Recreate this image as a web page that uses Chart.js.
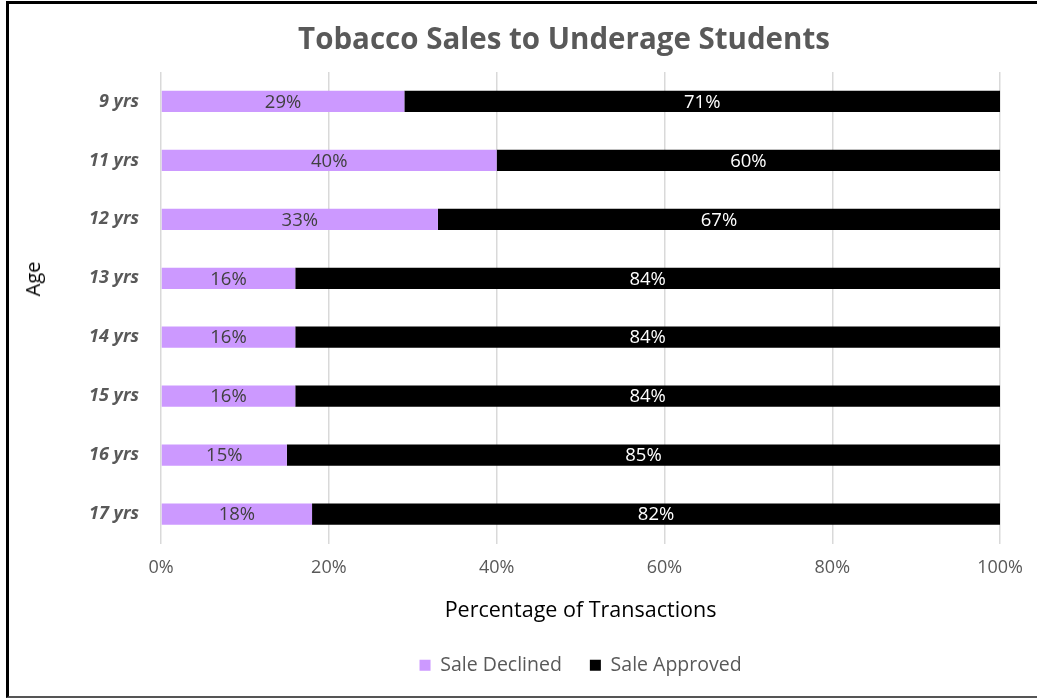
<!DOCTYPE html>
<html lang="en">
<head>
    <meta charset="UTF-8">
    <title>Tobacco Sales to Underage Students</title>
    <script src="https://cdn.jsdelivr.net/npm/chart.js"></script>
    <style>
        html, body {
            margin: 0;
            padding: 0;
            background: #ffffff;
            overflow: hidden;
            font-family: 'Open Sans', 'Noto Sans', sans-serif;
        }
        .frame {
            position: absolute;
            left: 6px;
            top: 1px;
            width: 1028px;
            height: 692px;
            border-top: 3px solid #000000;
            border-left: 3px solid #000000;
            border-bottom: 2px solid #555555;
        }
        canvas {
            display: block;
        }
        .chart-title {
            position: absolute;
            left: 0;
            top: 18px;
            width: 1128px;
            line-height: 40px;
            text-align: center;
            font-size: 29.5px;
            font-weight: bold;
            color: #595959;
            white-space: nowrap;
        }
        .axis-title-y {
            position: absolute;
            left: 33px;
            top: 279px;
            transform: translate(-50%, -50%) rotate(-90deg);
            font-size: 20px;
            line-height: 24px;
            color: #000000;
        }
    </style>
</head>
<body>
    <div class="frame">
        <canvas id="salesChart" width="1028" height="692"></canvas>
    </div>
    <div class="chart-title">Tobacco Sales to Underage Students</div>
    <div class="axis-title-y">Age</div>

    <script>
        const ages = ['9 yrs', '11 yrs', '12 yrs', '13 yrs', '14 yrs', '15 yrs', '16 yrs', '17 yrs'];
        const saleDeclined = [29, 40, 33, 16, 16, 16, 15, 18];
        const saleApproved = [71, 60, 67, 84, 84, 84, 85, 82];
        const xTicks = [0, 20, 40, 60, 80, 100];

        const FONT = "'Open Sans', 'Noto Sans', sans-serif";
        const GREY = '#595959';

        // writes the percentage in the middle of every bar segment
        const segmentLabels = {
            id: 'segmentLabels',
            afterDatasetsDraw(chart) {
                const ctx = chart.ctx;
                ctx.save();
                ctx.font = '18.5px ' + FONT;
                ctx.textAlign = 'center';
                ctx.textBaseline = 'middle';
                chart.data.datasets.forEach((ds, i) => {
                    const meta = chart.getDatasetMeta(i);
                    meta.data.forEach((bar, j) => {
                        const mid = (bar.x + bar.base) / 2;
                        ctx.fillStyle = ds.labelColor;
                        ctx.fillText(ds.data[j] + '%', mid, bar.y + 1);
                    });
                });
                ctx.restore();
            }
        };

        const ctx = document.getElementById('salesChart').getContext('2d');
        new Chart(ctx, {
            type: 'bar',
            data: {
                labels: ages,
                datasets: [{
                    label: 'Sale Declined',
                    data: saleDeclined,
                    backgroundColor: '#cc99ff',
                    labelColor: '#404040',
                    barPercentage: 0.36,
                    categoryPercentage: 1.0
                }, {
                    label: 'Sale Approved',
                    data: saleApproved,
                    backgroundColor: '#000000',
                    labelColor: '#ffffff',
                    barPercentage: 0.36,
                    categoryPercentage: 1.0
                }]
            },
            options: {
                indexAxis: 'y',
                responsive: false,
                animation: false,
                layout: {
                    padding: { left: 0, right: 26, top: 68, bottom: 11 }
                },
                scales: {
                    x: {
                        stacked: true,
                        min: 0,
                        max: 100,
                        afterBuildTicks(scale) {
                            scale.ticks = xTicks.map(v => ({ value: v }));
                        },
                        afterFit(scale) {
                            scale.height = 84;
                        },
                        ticks: {
                            color: GREY,
                            font: { family: FONT, size: 18 },
                            padding: 14,
                            maxRotation: 0,
                            callback: v => v + '%'
                        },
                        grid: {
                            color: '#d9d9d9',
                            lineWidth: 1.5,
                            drawTicks: false
                        },
                        border: { display: false },
                        title: {
                            display: true,
                            text: 'Percentage of Transactions',
                            color: '#000000',
                            font: { family: FONT, size: 21.5 },
                            padding: { top: 0, bottom: 4 }
                        }
                    },
                    y: {
                        stacked: true,
                        afterFit(scale) {
                            scale.width = 152;
                        },
                        ticks: {
                            color: GREY,
                            font: { family: FONT, size: 18, style: 'italic', weight: 'bold' },
                            padding: 14
                        },
                        grid: { display: false },
                        border: { display: false }
                    }
                },
                plugins: {
                    legend: {
                        position: 'bottom',
                        fullSize: false,
                        labels: {
                            color: GREY,
                            font: { family: FONT, size: 19.5 },
                            boxWidth: 11,
                            boxHeight: 11,
                            padding: 28
                        }
                    },
                    tooltip: { enabled: false }
                }
            },
            plugins: [segmentLabels]
        });
    </script>
</body>
</html>
